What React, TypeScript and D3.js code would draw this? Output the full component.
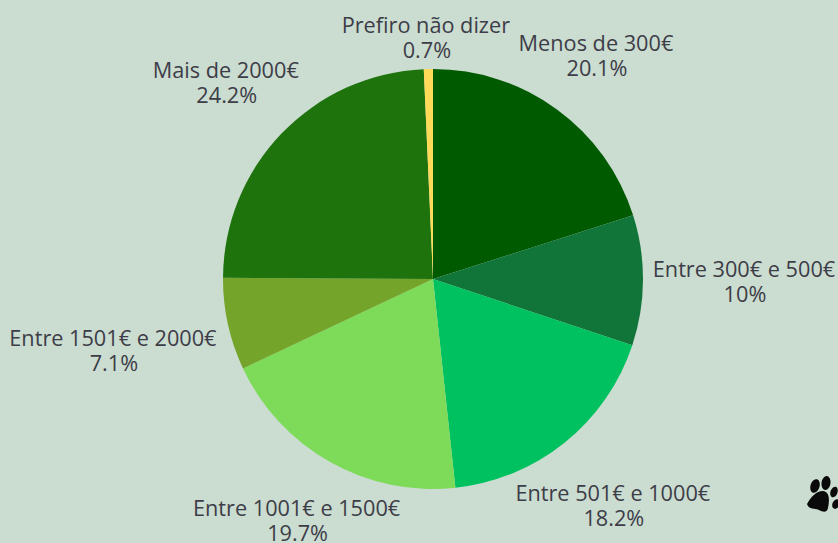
import React from 'react';
import * as d3 from 'd3';

const categories = ['Menos de 300€', 'Entre 300€ e 500€', 'Entre 501€ e 1000€', 'Entre 1001€ e 1500€', 'Entre 1501€ e 2000€', 'Mais de 2000€', 'Prefiro não dizer'];
const values = [20.1, 10, 18.2, 19.7, 7.1, 24.2, 0.7];
const colors = ['#005a00', '#117539', '#00c160', '#7edb5a', '#74a52a', '#1e730d', '#ffd958'];

// label centre relative to the point on the rim at the middle of the slice
const labelOffsets = [[39, -54.5], [101, 1], [48, 63], [-33.5, 58], [-115, 26], [-56, -51], [-2.5, -32]];

const width = 838, height = 543;
const center = { x: 433, y: 279 };
const radius = 210;

const App = () => {
    const slices = d3.pie<number>().sort(null)(values);
    const arc = d3.arc<d3.PieArcDatum<number>>().innerRadius(0).outerRadius(radius);
    const rim = d3.arc<d3.PieArcDatum<number>>().innerRadius(radius).outerRadius(radius);

    return (
        <svg width={width} height={height} style={{ position: 'fixed', left: 0, top: 0, background: '#cbdcd0' }}>
            <g transform={`translate(${center.x},${center.y})`}>
                {slices.map((s, i) => (
                    <path key={i} d={arc(s) ?? ''} fill={colors[i]} />
                ))}
                {slices.map((s, i) => {
                    const [x, y] = rim.centroid(s);
                    const [dx, dy] = labelOffsets[i];
                    return (
                        <text key={i} x={x + dx} y={y + dy} textAnchor="middle" fontFamily="'Open Sans'" fontSize={21.7} fill="#3d3d48">
                            <tspan x={x + dx} dy="-4.5">{categories[i]}</tspan>
                            <tspan x={x + dx + 1} dy="25.5">{values[i]}%</tspan>
                        </text>
                    );
                })}
            </g>
            {/* paw icon */}
            <g transform="translate(822,495)" fill="#0a0a0a">
                <path d="M-15,9 C-11,2 -6,-4 1,-4 C7,-3 8,3 6,13 C5,18 1,17 -3,15 C-7,13 -13,15 -15,9 Z" />
                <ellipse cx={-7} cy={-9} rx={4.5} ry={7} transform="rotate(18 -7 -9)" />
                <ellipse cx={4} cy={-12} rx={4.5} ry={7} transform="rotate(8 4 -12)" />
                <ellipse cx={12} cy={-3} rx={3.5} ry={5.5} transform="rotate(20 12 -3)" />
                <ellipse cx={14} cy={9} rx={3.5} ry={5} transform="rotate(25 14 9)" />
            </g>
        </svg>
    );
};

export default App;
